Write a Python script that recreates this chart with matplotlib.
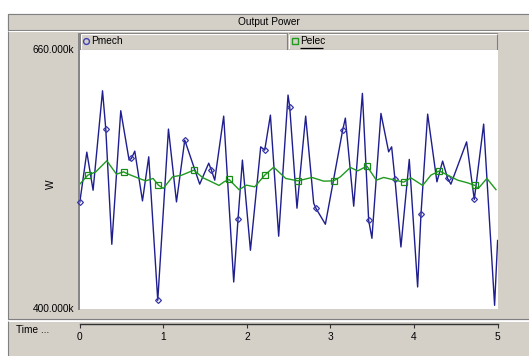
import numpy as np
import matplotlib
matplotlib.use("Agg")
import matplotlib.pyplot as plt
from matplotlib.patches import Rectangle

# ---------------- data (values in kW, time in s) ----------------
title = "Output Power"
series_names = ["Pmech", "Pelec"]
y_label = "W"
x_label = "Time ..."
y_limits = [400, 660]
y_tick_labels = ["400.000k", "660.000k"]
x_ticks = [0, 1, 2, 3, 4, 5]

# Pmech curve: turning points
pmech_t = [0.084, 0.159, 0.272, 0.383, 0.490, 0.590, 0.658, 0.750, 0.825,
           1.061, 1.157, 1.435, 1.543, 1.615, 1.722, 1.842, 1.946, 2.042,
           2.165, 2.281, 2.380, 2.492, 2.599, 2.703, 2.799, 2.939, 3.178,
           3.278, 3.382, 3.496, 3.604, 3.696, 3.732, 3.843, 3.943, 4.043,
           4.163, 4.274, 4.342, 4.441, 4.629, 4.833, 4.964, 5.000]
pmech_v = [557.6, 519.4, 619.1, 465.2, 599.1, 549.6, 558.6, 508.7, 552.9,
           580.7, 507.7, 525.5, 546.5, 529.5, 593.7, 427.4, 549.6, 459.2,
           562.9, 594.7, 473.3, 614.8, 501.4, 593.7, 506.4, 485.3, 591.7,
           503.4, 616.5, 471.2, 596.4, 557.9, 562.9, 462.5, 550.3, 422.4,
           595.7, 527.8, 548.6, 525.5, 567.9, 585.7, 404.0, 469.0]
# Pmech marker samples
pmech_mark_t = [0.000, 0.311, 0.618, 0.933, 1.256, 1.575, 1.894, 2.213,
                2.512, 2.827, 3.146, 3.457, 3.772, 4.083, 4.402, 4.721]
pmech_mark_v = [507.4, 580.7, 551.3, 409.0, 569.6, 539.5, 491.0, 559.6,
                603.1, 501.1, 579.7, 489.3, 530.2, 495.3, 531.2, 510.1]

# Pelec curve
pelec_t = [0.000, 0.191, 0.323, 0.439, 0.590, 0.709, 0.789, 0.877, 0.999,
           1.109, 1.220, 1.475, 1.535, 1.666, 1.726, 1.906, 1.994, 2.093,
           2.321, 2.464, 2.779, 2.919, 3.118, 3.238, 3.325, 3.549, 3.636,
           3.963, 4.103, 4.202, 4.522, 4.641, 4.769, 4.872, 4.980]
pelec_v = [525.5, 537.8, 548.9, 535.5, 535.2, 531.2, 528.8, 531.2, 521.2,
           532.8, 534.5, 531.8, 529.5, 524.2, 527.8, 519.9, 524.5, 522.8,
           542.5, 531.2, 532.2, 528.5, 532.8, 542.2, 538.8, 529.5, 532.2,
           531.8, 524.2, 534.5, 529.5, 526.8, 521.2, 531.2, 520.0]
pelec_mark_t = [0.096, 0.523, 0.941, 1.364, 1.786, 2.213, 2.611, 3.038,
                3.437, 3.876, 4.303, 4.728]
pelec_mark_v = [534.5, 537.8, 524.5, 539.5, 530.2, 534.5, 528.8, 528.8,
                543.5, 527.5, 538.8, 524.2]

# ---------------- styling ----------------
W, H = 529, 356
GRAY = "#d4d0c8"
DARK = "#808080"
BLUE = "#1e1e8e"
GREEN = "#1f9a1f"
FONT = "Liberation Sans"
FS = 7.3

fig = plt.figure(figsize=(W / 100, H / 100), dpi=100, facecolor="white")


def px_axes(x0, y0, x1, y1, **kw):
    return fig.add_axes([x0 / W, 1 - y1 / H, (x1 - x0) / W, (y1 - y0) / H], **kw)


bg = fig.add_axes([0, 0, 1, 1], zorder=0)
bg.set_xlim(0, W)
bg.set_ylim(H, 0)
bg.axis("off")


def rect(x0, y0, x1, y1, fc=GRAY, ec=DARK, lw=0.8, z=1):
    bg.add_patch(Rectangle((x0, y0), x1 - x0, y1 - y0, facecolor=fc,
                           edgecolor=ec, linewidth=lw, zorder=z))


def hl(x0, x1, y, c, lw=0.8, z=3):
    bg.plot([x0, x1], [y, y], color=c, lw=lw, zorder=z, solid_capstyle="butt")


def vl(x, y0, y1, c, lw=0.8, z=3):
    bg.plot([x, x], [y0, y1], color=c, lw=lw, zorder=z, solid_capstyle="butt")


# outer panels
rect(7.5, 13.5, 530, 318.5)
rect(7.5, 13.5, 530, 30.0)
hl(8, 529, 31.2, "white")
rect(7.5, 320.5, 530, 360)
hl(8, 529, 321.3, "white")

# legend bars
for (x0, x1) in [(80, 286.5), (288.5, 497.0)]:
    rect(x0, 33.0, x1, 49.5, ec=DARK)
    hl(x0 + 0.5, x1 - 0.5, 33.8, "white", z=4)
    vl(x0 + 0.8, 33.5, 49, "white", z=4)

# plot left border line
vl(79.3, 33, 309.5, DARK, lw=1.3, z=5)

bg.text(269, 22, title, ha="center", va="center", fontsize=FS, family=FONT)
bg.text(16, 330, x_label, ha="left", va="center", fontsize=FS, family=FONT)
bg.text(51, 184, y_label, ha="center", va="center", fontsize=FS,
        family=FONT, rotation=90)

# legend entries
bg.plot([85.5], [41.0], marker="o", ms=4.2, mfc="none", mec="#4040b0",
        mew=1.0, zorder=6)
bg.text(91, 41.2, series_names[0], ha="left", va="center", fontsize=FS,
        family=FONT, zorder=6)
bg.plot([294.5], [41.0], marker="s", ms=4.2, mfc="none", mec=GREEN,
        mew=1.0, zorder=6)
bg.text(300, 41.2, series_names[1], ha="left", va="center",
        fontsize=FS, family=FONT, zorder=6)
hl(300, 323, 47.6, "black", lw=0.9, z=6)

# ---------------- main plot ----------------
ax = px_axes(79.8, 50.0, 497.6, 309.3, zorder=2)
ax.set_facecolor("white")
ax.set_xlim(0, 5)
ax.set_ylim(*y_limits)
for s in ax.spines.values():
    s.set_visible(False)
ax.set_xticks([])
ax.set_yticks(y_limits)
ax.set_yticklabels(y_tick_labels, fontsize=FS, family=FONT)
ax.tick_params(axis="y", length=0, pad=4)
for lab in ax.get_yticklabels():
    lab.set_va("center")

# merge line points with marker samples
lt = np.array(pmech_t + pmech_mark_t)
lv = np.array(pmech_v + pmech_mark_v)
o = np.argsort(lt)
ax.plot(lt[o], lv[o], color=BLUE, lw=1.0, zorder=3)
ax.plot(pmech_mark_t, pmech_mark_v, ls="none", marker="D", ms=3.0,
        mfc="none", mec="#3535a8", mew=0.9, zorder=4, clip_on=False)

gt = np.array(pelec_t + pelec_mark_t)
gv = np.array(pelec_v + pelec_mark_v)
o = np.argsort(gt)
ax.plot(gt[o], gv[o], color=GREEN, lw=1.0, zorder=5)
ax.plot(pelec_mark_t, pelec_mark_v, ls="none", marker="s", ms=4.0,
        mfc="none", mec="#188a18", mew=0.9, zorder=6)

# ---------------- time axis ----------------
tx = px_axes(79.8, 318.0, 497.6, 323.5, zorder=3)
tx.set_facecolor("none")
tx.set_xlim(0, 5)
tx.set_yticks([])
for k, s in tx.spines.items():
    s.set_visible(k == "bottom")
tx.spines["bottom"].set_color("#303030")
tx.spines["bottom"].set_linewidth(1.0)
tx.set_xticks(x_ticks)
tx.set_xticklabels([str(v) for v in x_ticks], fontsize=FS, family=FONT)
tx.tick_params(axis="x", direction="out", length=3, width=0.8,
               color="#303030", pad=3)

fig.savefig("out.png", dpi=100, facecolor="white")
